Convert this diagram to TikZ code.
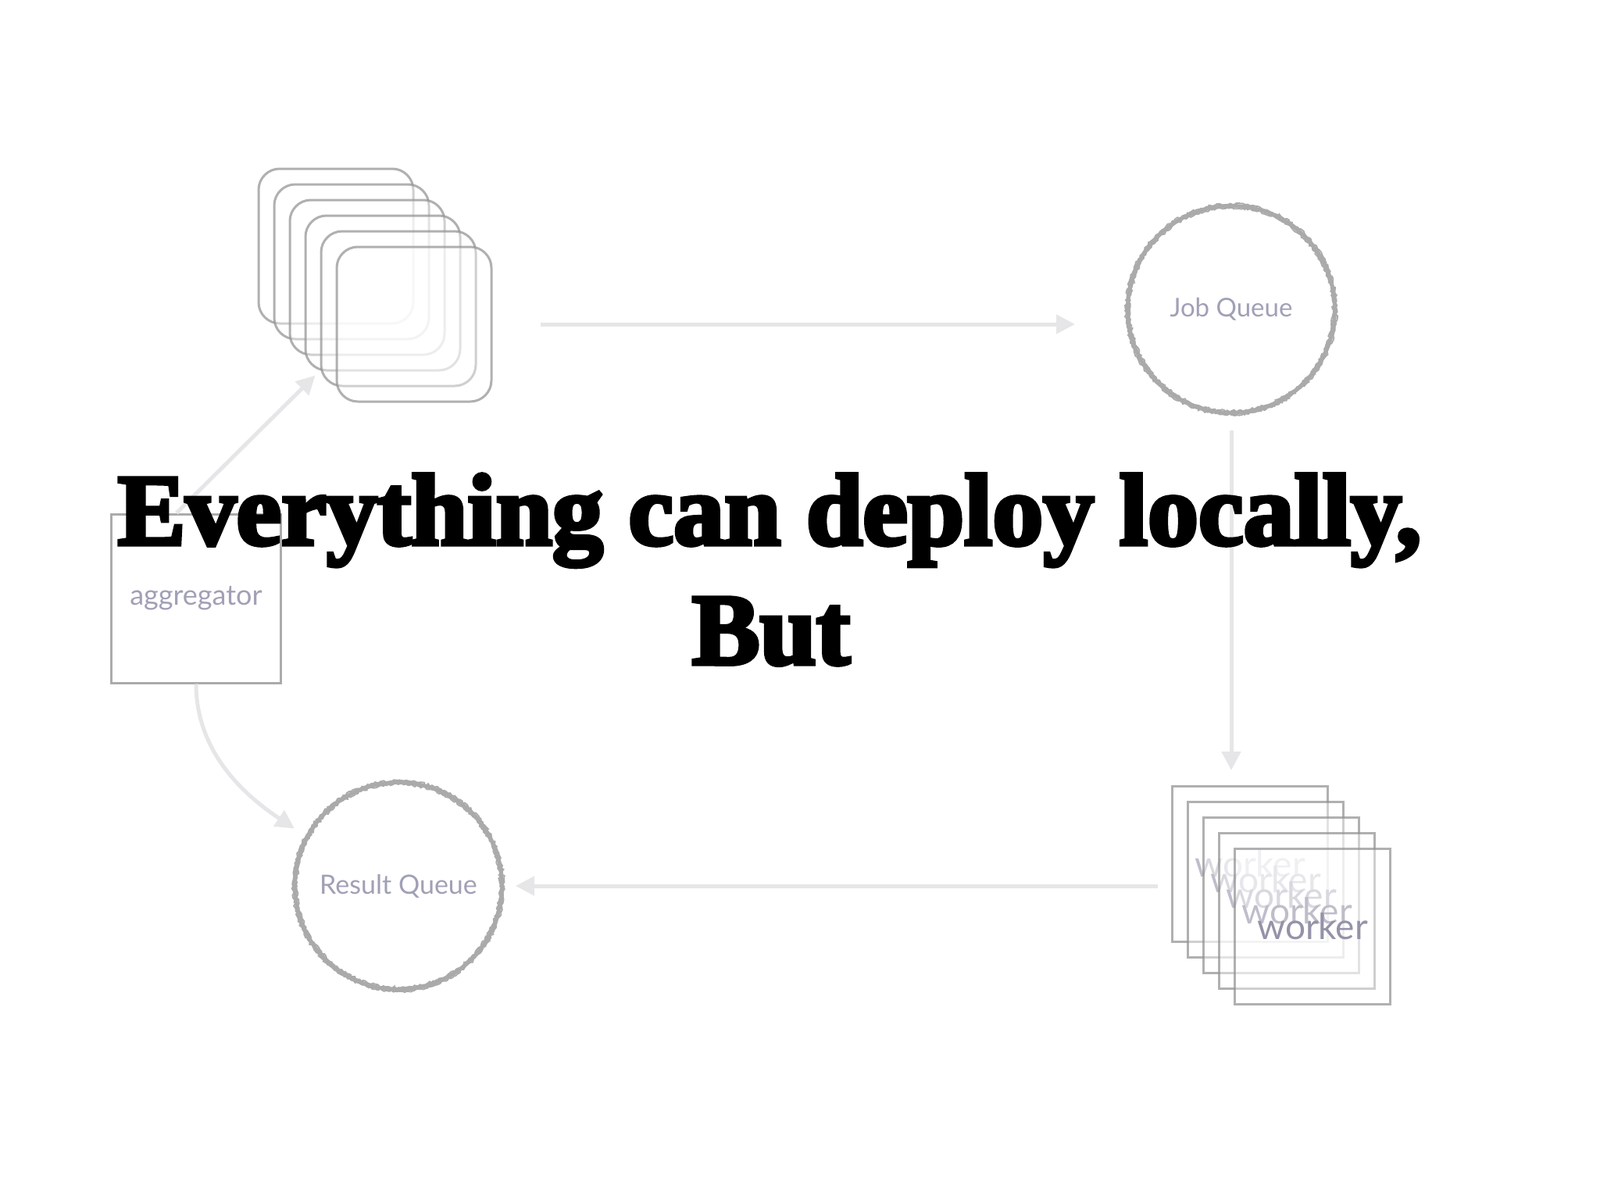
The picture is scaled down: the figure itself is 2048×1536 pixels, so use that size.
\documentclass[tikz,border=0pt]{standalone}
\usepackage{fontspec}
\usepackage{tikz}
\usetikzlibrary{arrows.meta,decorations.pathmorphing}

\newfontfamily\titlefont[FakeBold=4]{Liberation Serif Bold}
\newfontfamily\labelfont{Lato}

\definecolor{labelgray}{RGB}{160,160,182}
\definecolor{arrowgray}{RGB}{230,230,232}
\definecolor{boxgray}{RGB}{150,150,150}
\definecolor{ringgray}{RGB}{170,170,170}

\begin{document}
\begin{tikzpicture}[x=1pt,y=-1pt,
   stackbox/.style={rectangle,rounded corners=27pt,draw=boxgray,line width=3pt,
    draw opacity=0.75,fill=white,fill opacity=0.4,text opacity=1,
    minimum width=198pt,minimum height=198pt},
   workbox/.style={rectangle,draw=boxgray,line width=3pt,draw opacity=0.75,
    fill=white,fill opacity=0.4,text opacity=1,
    minimum width=199pt,minimum height=199pt,
    font=\labelfont\fontsize{46}{46}\selectfont,text=labelgray!92!black},
   aggbox/.style={rectangle,draw=boxgray!80,line width=3pt,
    minimum width=217pt,minimum height=216pt,
    font=\labelfont\fontsize{36}{36}\selectfont,text=labelgray},
   queue/.style={circle,draw=ringgray,line width=5pt,minimum size=265pt,
    inner sep=0pt,text=labelgray},
   rough/.style={draw=ringgray,line width=1.8pt,decorate,
    decoration={random steps,segment length=2.5pt,amplitude=1.4pt}},
   flow/.style={draw=arrowgray,line width=5pt,
    -{Triangle[length=24pt,width=24pt]}},
   title/.style={font=\titlefont\fontsize{130}{130}\selectfont,
    anchor=base,inner sep=0pt}
    ]

  \useasboundingbox (0,0) rectangle (2048,1536);

  % -- stack of rounded boxes
  \node[stackbox] at (430,315) (sq1) {};
  \node[stackbox] at (450,335) (sq2) {};
  \node[stackbox] at (470,355) (sq3) {};
  \node[stackbox] at (490,375) (sq4) {};
  \node[stackbox] at (510,395) (sq5) {};
  \node[stackbox] at (530,415) (sq6) {};

  % -- queues
  \node[queue,font=\labelfont\fontsize{33}{33}\selectfont] at (1576,396) (jobq) {Job Queue};
  \draw[rough] (jobq.center) circle (130pt);
  \draw[rough] (jobq.center) circle (135pt);
  \node[queue,font=\labelfont\fontsize{34}{34}\selectfont] at (510,1134) (resq) {Result Queue};
  \draw[rough] (resq.center) circle (130pt);
  \draw[rough] (resq.center) circle (135pt);

  % -- workers
  \node[workbox] at (1600,1106) (w1) {worker};
  \node[workbox] at (1620,1126) (w2) {worker};
  \node[workbox] at (1640,1146) (w3) {worker};
  \node[workbox] at (1660,1166) (w4) {worker};
  \node[workbox] at (1680,1186) (w5) {worker};

  % -- aggregator
  \node[aggbox] at (251,766) (agg) {aggregator};

  % -- arrows
  \draw[flow] ([xshift=-25pt]agg.north) -- ([xshift=14pt,yshift=-5pt]sq4.south west);
  \draw[flow] ([xshift=61pt]sq6.east) -- ([xshift=-65pt]sq6.east -| jobq.west);
  \draw[flow] ([yshift=-20pt]jobq.south) -- ([yshift=19pt]jobq.south |- w1.north);
  \draw[flow] ([xshift=-17pt]w1.west |- resq.east) -- ([xshift=15pt]resq.east);
  \draw[flow] (agg.south) .. controls +(0,90) and +(-60,-40) .. ([xshift=-15pt,yshift=8pt]resq.151);

  % -- title
  \node[title] at (985,697) (line1) {Everything can deploy locally,};
  \node[title] at (987,850) (line2) {But};

\end{tikzpicture}
\end{document}
